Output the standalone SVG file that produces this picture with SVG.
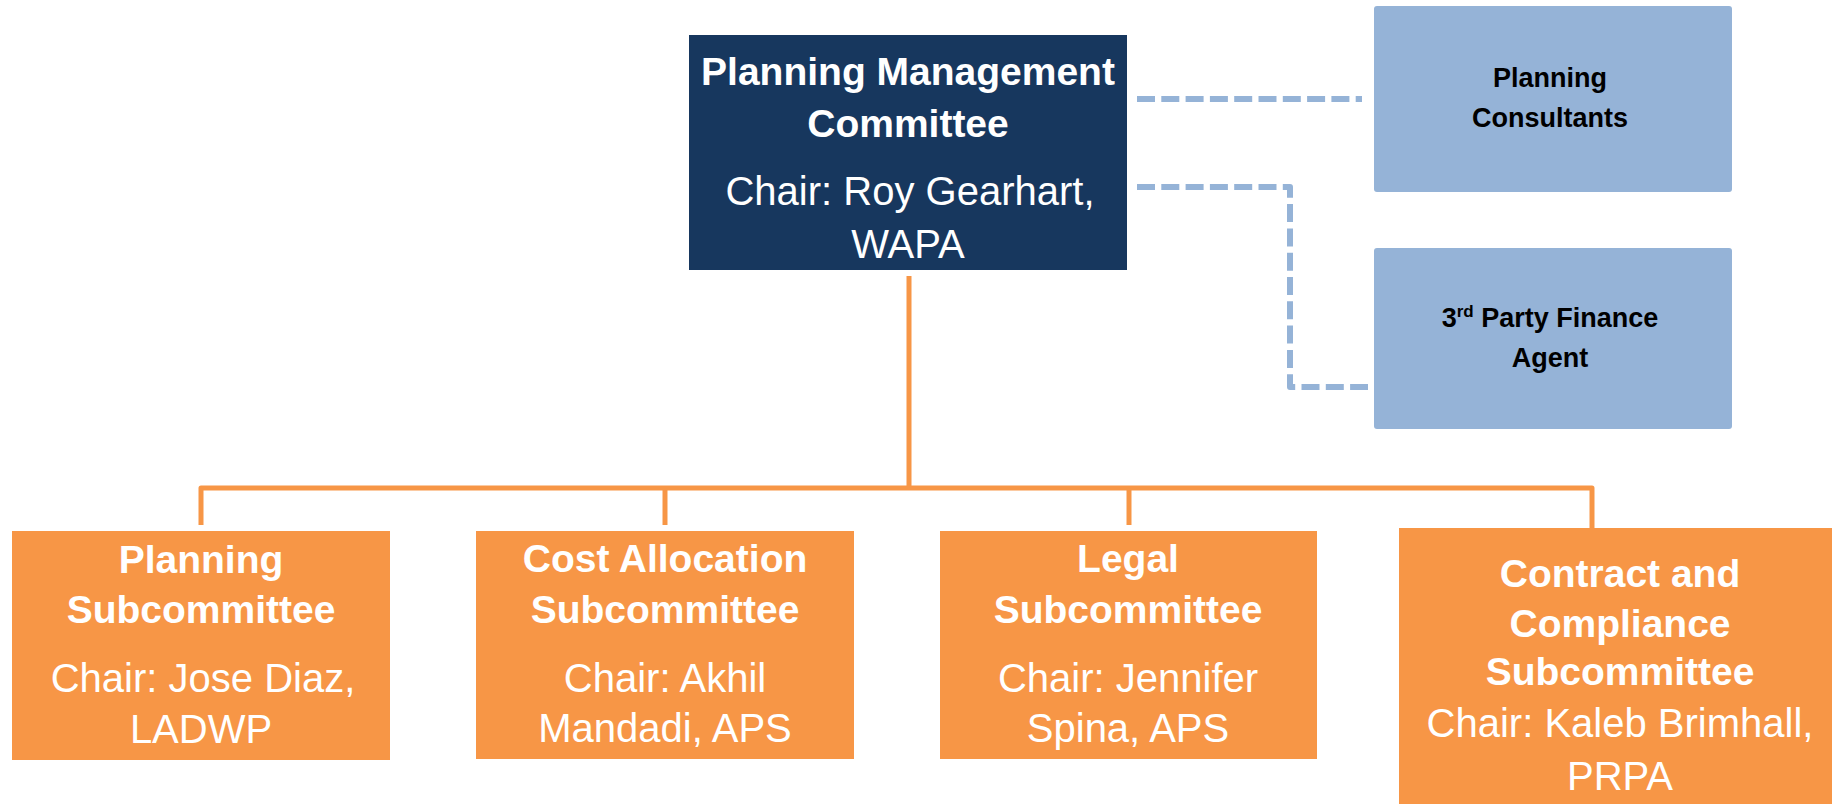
<svg xmlns="http://www.w3.org/2000/svg" width="1832" height="804" viewBox="0 0 1832 804">
<style>
  .navy { fill: #17375e; }
  .orange { fill: #f79646; }
  .blue { fill: #95b3d7; }
  .tb { font-family: "Liberation Sans", Arial, sans-serif; font-weight: bold; font-size: 39px; fill: #ffffff; text-anchor: middle; }
  .tr { font-family: "Liberation Sans", Arial, sans-serif; font-size: 40px; fill: #ffffff; text-anchor: middle; }
  .bk { font-family: "Liberation Sans", Arial, sans-serif; font-weight: bold; font-size: 27px; fill: #000000; text-anchor: middle; }
  .solid { fill: none; stroke: #f79646; stroke-width: 5; stroke-linejoin: round; }
  .dash { fill: none; stroke: #95b3d7; stroke-width: 6; stroke-dasharray: 18 6.3; stroke-linejoin: round; }
</style>
<rect width="1832" height="804" fill="#ffffff"/>
<g id="connectors">
  <line class="solid" x1="909" y1="276" x2="909" y2="488"/>
  <path class="solid" d="M201 525 V488 H1592 V528"/>
  <line class="solid" x1="665" y1="488" x2="665" y2="525"/>
  <line class="solid" x1="1129" y1="488" x2="1129" y2="525"/>
  <line class="dash" x1="1137" y1="99" x2="1362" y2="99"/>
  <path class="dash" d="M1137 187 H1290 V387 H1368"/>
</g>
<g id="pmc">
  <rect class="navy" x="689" y="35" width="438" height="235"/>
  <text class="tb" x="908" y="85">Planning Management</text>
  <text class="tb" x="908" y="137">Committee</text>
  <text class="tr" x="910" y="205">Chair: Roy Gearhart,</text>
  <text class="tr" x="908" y="258">WAPA</text>
</g>
<g id="planning-consultants">
  <rect class="blue" x="1374" y="6" width="358" height="186" rx="3"/>
  <text class="bk" x="1550" y="87">Planning</text>
  <text class="bk" x="1550" y="127">Consultants</text>
</g>
<g id="finance-agent">
  <rect class="blue" x="1374" y="248" width="358" height="181" rx="3"/>
  <text class="bk" x="1550" y="327">3<tspan font-size="17" dy="-10">rd</tspan><tspan dy="10"> Party Finance</tspan></text>
  <text class="bk" x="1550" y="367">Agent</text>
</g>
<g id="planning-sub">
  <rect class="orange" x="12" y="531" width="378" height="229"/>
  <text class="tb" x="201" y="573">Planning</text>
  <text class="tb" x="201" y="623">Subcommittee</text>
  <text class="tr" x="203" y="692">Chair: Jose Diaz,</text>
  <text class="tr" x="201" y="743">LADWP</text>
</g>
<g id="cost-sub">
  <rect class="orange" x="476" y="531" width="378" height="228"/>
  <text class="tb" x="665" y="572">Cost Allocation</text>
  <text class="tb" x="665" y="623">Subcommittee</text>
  <text class="tr" x="665" y="692">Chair: Akhil</text>
  <text class="tr" x="665" y="742">Mandadi, APS</text>
</g>
<g id="legal-sub">
  <rect class="orange" x="940" y="531" width="377" height="228"/>
  <text class="tb" x="1128" y="572">Legal</text>
  <text class="tb" x="1128" y="623">Subcommittee</text>
  <text class="tr" x="1128" y="692">Chair: Jennifer</text>
  <text class="tr" x="1128" y="742">Spina, APS</text>
</g>
<g id="contract-sub">
  <rect class="orange" x="1399" y="528" width="433" height="276"/>
  <text class="tb" x="1620" y="587">Contract and</text>
  <text class="tb" x="1620" y="637">Compliance</text>
  <text class="tb" x="1620" y="685">Subcommittee</text>
  <text class="tr" x="1620" y="737">Chair: Kaleb Brimhall,</text>
  <text class="tr" x="1620" y="790">PRPA</text>
</g>
</svg>
